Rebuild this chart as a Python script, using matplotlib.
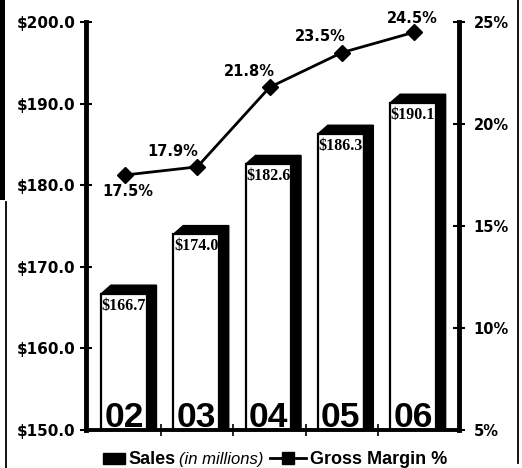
import matplotlib
matplotlib.use("Agg")
import matplotlib.pyplot as plt
from matplotlib.patches import Polygon, Rectangle
from matplotlib.lines import Line2D
import numpy as np

# ---- data ----
years = ["02", "03", "04", "05", "06"]
sales = [166.7, 174.0, 182.6, 186.3, 190.1]
sales_labels = ["$166.7", "$174.0", "$182.6", "$186.3", "$190.1"]
margin = [17.5, 17.9, 21.8, 23.5, 24.5]
margin_labels = ["17.5%", "17.9%", "21.8%", "23.5%", "24.5%"]
left_ticks = [150, 160, 170, 180, 190, 200]
left_ticklabels = ["$150.0", "$160.0", "$170.0", "$180.0", "$190.0", "$200.0"]
right_ticks = [5, 10, 15, 20, 25]
right_ticklabels = ["5%", "10%", "15%", "20%", "25%"]

W, H = 522, 468
fig = plt.figure(figsize=(W / 100, H / 100), dpi=100)
fig.patch.set_facecolor("white")

ax = fig.add_axes([86 / W, 1 - 430 / H, (459 - 86) / W, (430 - 22) / H])
ax.set_xlim(-0.54, 4.62)
ax.set_ylim(150, 200)
ax.set_facecolor("none")

x = np.arange(len(years))
fl, fr = -0.33, 0.30          # front face offsets
dx, dy = 0.135, 1.05          # 3D depth offsets

ax.bar(x + fl, np.array(sales) - 150, width=fr - fl, bottom=150, align="edge",
       facecolor="white", edgecolor="black", linewidth=1.6, zorder=2)
for xi, v in zip(x, sales):
    xl, xr = xi + fl, xi + fr
    poly = Polygon([(xl, v), (xl + dx, v + dy), (xr + dx, v + dy),
                    (xr + dx, 150), (xr, 150), (xr, v)],
                   closed=True, facecolor="black", edgecolor="black", lw=1, zorder=2)
    ax.add_patch(poly)

for xi, v, lab, yr in zip(x, sales, sales_labels, years):
    cx = xi + (fl + fr) / 2
    ax.annotate(lab, (cx, v), xytext=(0, -12), textcoords="offset pixels",
                ha="center", va="center", fontsize=11.5, fontweight="bold",
                family=["Liberation Serif", "DejaVu Serif"], zorder=3)
    ax.annotate(yr, (cx, 150), xytext=(0, 3), textcoords="offset pixels",
                ha="center", va="baseline", fontsize=25.5, fontweight="bold",
                family=["Liberation Sans", "DejaVu Sans"], zorder=3)

for s in ["top", "right"]:
    ax.spines[s].set_visible(False)
ax.spines["left"].set_linewidth(3.5)
ax.spines["bottom"].set_linewidth(2.8)
ax.set_yticks(left_ticks)
ax.set_yticklabels(left_ticklabels, fontsize=11, fontweight="bold",
                   family="DejaVu Sans")
ax.tick_params(axis="y", direction="inout", length=9, width=1.5, pad=3)
ax.set_xticks([0.5, 1.5, 2.5, 3.5])
ax.set_xticklabels([])
ax.tick_params(axis="x", direction="inout", length=9, width=1.2)

ax2 = ax.twinx()
ax2.set_ylim(5, 25)
ax2.set_xlim(ax.get_xlim())
for s in ["top", "left", "bottom"]:
    ax2.spines[s].set_visible(False)
ax2.spines["right"].set_linewidth(3.5)
ax2.set_yticks(right_ticks)
ax2.set_yticklabels(right_ticklabels, fontsize=10.5, fontweight="bold",
                    family="DejaVu Sans")
ax2.tick_params(axis="y", direction="inout", length=9, width=1.5, pad=6)

ax2.plot(x, margin, color="black", lw=2, marker="D", ms=8, zorder=4)
offsets = [(3, -17), (-25, 15), (-20, 16), (-22, 16), (-2, 14)]
for xi, m, lab, off in zip(x, margin, margin_labels, offsets):
    ax2.annotate(lab, (xi, m), xytext=off, textcoords="offset pixels",
                 ha="center", va="center", fontsize=10.5, fontweight="bold",
                 family="DejaVu Sans", zorder=5)

# ---- legend (manual) ----
fig.add_artist(Rectangle((103 / W, 1 - 464 / H), 22 / W, 11 / H,
                         transform=fig.transFigure, facecolor="black",
                         edgecolor="black"))
renderer = fig.canvas.get_renderer()
ybase = 1 - 464 / H


def put(xpix, s, **kw):
    t = fig.text(xpix / W, ybase, s, ha="left", va="baseline", **kw)
    bb = t.get_window_extent(renderer=renderer)
    return bb.x1


xend = put(128, "Sales", fontsize=13, fontweight="bold", family="Liberation Sans")
xend = put(xend + 4, "(in millions)", fontsize=12, fontstyle="italic",
           family="Liberation Sans")
lx0 = xend + 6
lx1 = lx0 + 36
fig.add_artist(Line2D([lx0 / W, lx1 / W], [1 - 458 / H, 1 - 458 / H],
                      transform=fig.transFigure, color="black", lw=2))
fig.add_artist(Line2D([(lx0 + lx1) / 2 / W], [1 - 458 / H], marker="s", ms=8,
                      transform=fig.transFigure, color="black"))
put(lx1 + 4, "Gross Margin %", fontsize=13, fontweight="bold",
    family="Liberation Sans")

# ---- frame ----
fig.add_artist(Rectangle((0, 1 - 200 / H), 4.5 / W, 200 / H,
                         transform=fig.transFigure, facecolor="black",
                         edgecolor="none"))
fig.add_artist(Line2D([6 / W, 6 / W], [1 - 202 / H, 0], transform=fig.transFigure,
                      color="black", lw=1.3))
fig.add_artist(Line2D([518 / W, 518 / W], [1, 0.01], transform=fig.transFigure,
                      color="black", lw=1.3))

fig.savefig("out.png", dpi=100, facecolor="white")
